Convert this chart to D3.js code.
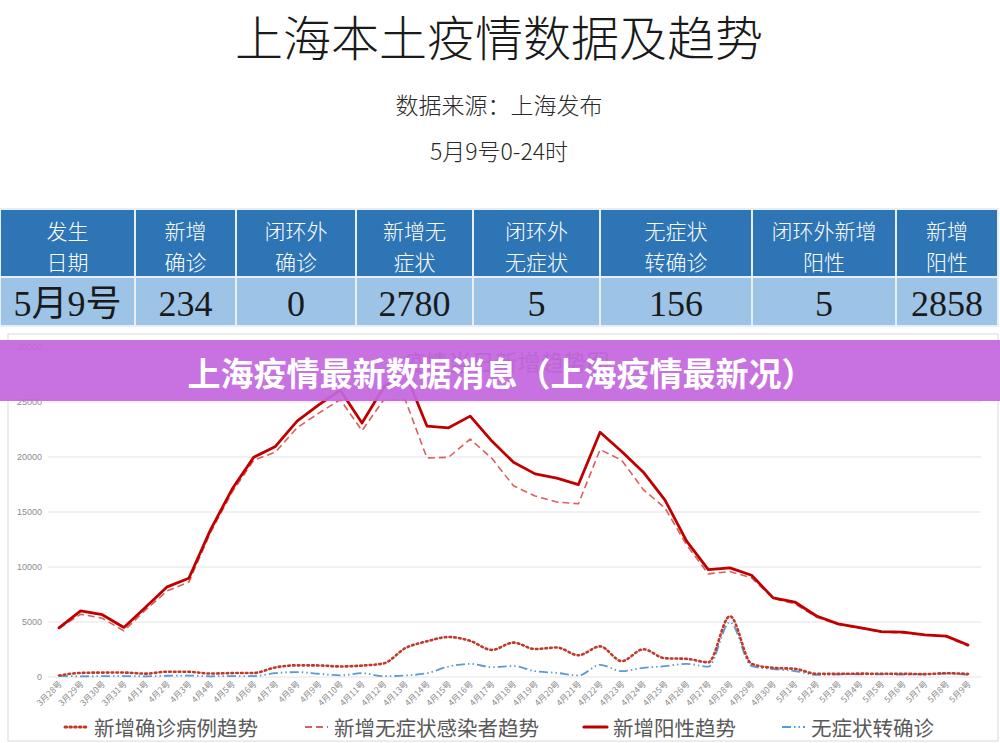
<!DOCTYPE html>
<html>
<head>
<meta charset="utf-8">
<script src="https://cdn.jsdelivr.net/npm/d3@7"></script>
<style>
  html, body { margin: 0; padding: 0; background: #fff; }
  svg { display: block; }
  text { font-family: "Noto Sans CJK SC", "Noto Sans", sans-serif; }
</style>
</head>
<body>
<div id="chart"></div>
<script>
// ---- data ----
const dates = ["3月28号","3月29号","3月30号","3月31号","4月1号","4月2号","4月3号","4月4号","4月5号","4月6号",
  "4月7号","4月8号","4月9号","4月10号","4月11号","4月12号","4月13号","4月14号","4月15号","4月16号",
  "4月17号","4月18号","4月19号","4月20号","4月21号","4月22号","4月23号","4月24号","4月25号","4月26号",
  "4月27号","4月28号","4月29号","4月30号","5月1号","5月2号","5月3号","5月4号","5月5号","5月6号",
  "5月7号","5月8号","5月9号"];

const confirmed = [96,326,355,358,260,438,425,268,311,322,824,1015,1006,914,994,1189,2573,3200,3590,3238,
  2417,3084,2494,2634,1931,2736,1401,2472,1661,1606,1292,5487,1150,788,700,250,240,260,250,250,215,300,234];

const asymptomatic = [4381,5656,5298,4144,6051,7788,8581,13086,16766,19660,20398,22609,23937,25173,22348,25141,25146,19872,19923,21582,
  19831,17332,16407,15861,15698,20634,19657,16983,15319,11956,9330,9545,8970,7084,6606,5395,4722,4390,4024,3961,3760,3625,2780];

const positive = [4430,5960,5620,4460,6290,8150,8930,13330,17040,19940,20920,23220,24690,26030,23040,26300,27620,22770,22610,23670,
  21400,19470,18420,18030,17450,22210,20460,18570,16040,12300,9720,9880,9200,7150,6770,5500,4790,4450,4080,4030,3790,3670,2858];

const converted = [50,20,30,40,20,70,80,20,40,40,300,400,250,100,300,30,100,300,900,1150,
  850,950,480,330,90,1060,480,790,940,1150,900,4950,940,670,500,150,190,200,190,180,190,270,156];

const yTicks = [0,5000,10000,15000,20000,25000,30000];

const tableHead = [["发生","日期"],["新增","确诊"],["闭环外","确诊"],["新增无","症状"],["闭环外","无症状"],["无症状","转确诊"],["闭环外新增","阳性"],["新增","阳性"]];
const tableRow = ["5月9号","234","0","2780","5","156","5","2858"];
const colEdges = [0,135,236,356,473,600,752,896,998];

const series = [
  {name: "新增确诊病例趋势", values: confirmed, color: "#c0392b", width: 2.6, dash: "1.6,3.2", cap: "round", curve: d3.curveMonotoneX},
  {name: "新增无症状感染者趋势", values: asymptomatic, color: "#d9605c", width: 1.6, dash: "7,4", cap: "butt", curve: d3.curveLinear},
  {name: "新增阳性趋势", values: positive, color: "#c00000", width: 2.8, dash: null, cap: "round", curve: d3.curveLinear},
  {name: "无症状转确诊", values: converted, color: "#5b9bd5", width: 1.8, dash: "9,3,1.5,3,1.5,3", cap: "butt", curve: d3.curveMonotoneX}
];

// ---- svg ----
const W = 1000, H = 743;
const svg = d3.select("#chart").append("svg").attr("width", W).attr("height", H);

// title block
svg.append("text").attr("x", 499).attr("y", 56).attr("text-anchor", "middle")
  .attr("font-size", 48).attr("font-weight", 300).attr("fill", "#1a1a1a")
  .text("上海本土疫情数据及趋势");
svg.append("text").attr("x", 499).attr("y", 114).attr("text-anchor", "middle")
  .attr("font-size", 23).attr("font-weight", 300).attr("fill", "#2a2a2a")
  .text("数据来源：上海发布");
svg.append("text").attr("x", 499).attr("y", 160).attr("text-anchor", "middle")
  .attr("font-size", 23).attr("font-weight", 300).attr("fill", "#2a2a2a")
  .text("5月9号0-24时");

// table
const tbl = svg.append("g");
const headTop = 209, headBot = 277, rowBot = 326;
tableHead.forEach((lines, i) => {
  const x0 = colEdges[i], x1 = colEdges[i + 1], cx = (x0 + x1) / 2;
  tbl.append("rect").attr("x", x0).attr("y", headTop).attr("width", x1 - x0).attr("height", headBot - headTop)
    .attr("fill", "#2e75b6").attr("stroke", "#e8eef6").attr("stroke-width", 2);
  tbl.append("rect").attr("x", x0).attr("y", headBot).attr("width", x1 - x0).attr("height", rowBot - headBot)
    .attr("fill", "#9dc3e6").attr("stroke", "#e8eef6").attr("stroke-width", 2);
  lines.forEach((t, j) => {
    tbl.append("text").attr("x", cx).attr("y", 230 + j * 31).attr("text-anchor", "middle")
      .attr("dominant-baseline", "central").attr("font-size", 21).attr("font-weight", 300)
      .attr("fill", "#fff").text(t);
  });
  tbl.append("text").attr("x", cx).attr("y", 304).attr("text-anchor", "middle")
    .attr("dominant-baseline", "central").attr("font-size", 36)
    .style("font-family", "'Liberation Serif', 'Noto Sans CJK SC', serif")
    .attr("fill", "#1a1a1a").text(tableRow[i]);
});

// chart frame
svg.append("rect").attr("x", 8).attr("y", 334).attr("width", 990).attr("height", 407)
  .attr("fill", "none").attr("stroke", "#d9d9d9");

// chart title, mostly hidden under the banner
svg.append("text").attr("x", 506).attr("y", 361).attr("text-anchor", "middle")
  .attr("dominant-baseline", "central").attr("font-size", 23).attr("fill", "#595959")
  .text("疫情当日新增趋势图");

const x = d3.scalePoint().domain(dates).range([59, 968]);
const y = d3.scaleLinear().domain([0, 30000]).range([676.5, 346.5]);

const yAxis = svg.append("g").attr("transform", "translate(48,0)")
  .call(d3.axisLeft(y).tickValues(yTicks).tickSize(-933).tickPadding(6).tickFormat(d3.format("d")));
yAxis.select(".domain").remove();
yAxis.selectAll("line").attr("stroke", "#e3e3e3").attr("stroke-width", 1.2);
yAxis.selectAll("text").attr("font-size", 9).attr("fill", "#8c8c8c")
  .style("font-family", "'Liberation Sans', Arial, sans-serif");

const xAxis = svg.append("g").attr("transform", "translate(0,676.5)")
  .call(d3.axisBottom(x).tickSize(0).tickPadding(0));
xAxis.select(".domain").remove();
xAxis.selectAll("text")
  .attr("font-size", 8.5).attr("fill", "#8c8c8c")
  .attr("text-anchor", "end").attr("dy", 0)
  .attr("transform", "translate(3,8) rotate(-45)");

// lines
const drawOrder = [3, 1, 0, 2];
drawOrder.forEach(k => {
  const s = series[k];
  const line = d3.line().x((d, i) => x(dates[i])).y(d => y(d)).curve(s.curve);
  svg.append("path").datum(s.values).attr("d", line)
    .attr("fill", "none").attr("stroke", s.color).attr("stroke-width", s.width)
    .attr("stroke-dasharray", s.dash).attr("stroke-linecap", s.cap).attr("stroke-linejoin", "round");
});

// legend
const legendPos = [65, 305, 584, 782];
series.forEach((s, i) => {
  const g = svg.append("g").attr("transform", `translate(${legendPos[i]},727)`);
  g.append("line").attr("x1", 0).attr("x2", 23).attr("y1", 0).attr("y2", 0)
    .attr("stroke", s.color).attr("stroke-width", s.width + 0.4)
    .attr("stroke-dasharray", s.dash).attr("stroke-linecap", s.cap);
  g.append("text").attr("x", 29).attr("y", 0).attr("dominant-baseline", "central")
    .attr("font-size", 20.5).attr("fill", "#595959").text(s.name);
});

// overlay banner
svg.append("rect").attr("x", 0).attr("y", 340).attr("width", W).attr("height", 61)
  .attr("fill", "#c466de").attr("opacity", 0.93);
svg.append("text").attr("x", 501).attr("y", 372).attr("text-anchor", "middle")
  .attr("dominant-baseline", "central").attr("font-size", 33).attr("font-weight", 700)
  .attr("fill", "#fff").text("上海疫情最新数据消息（上海疫情最新况）");
</script>
</body>
</html>
